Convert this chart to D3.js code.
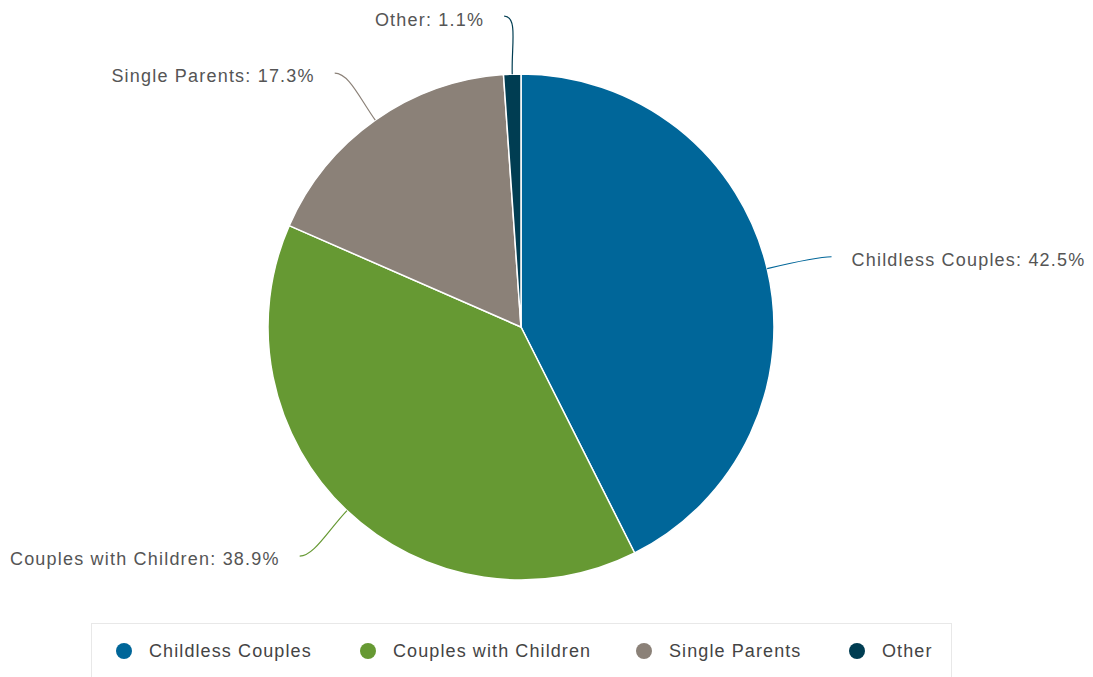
<!DOCTYPE html>
<meta charset="utf-8">
<style>
html, body {
  margin: 0;
  padding: 0;
  background: #fff;
}
svg {
  display: block;
  font-family: "Liberation Sans", Arial, sans-serif;
}
.label {
  font-size: 18px;
  fill: #555;
  letter-spacing: 1.2px;
}
.legend text {
  font-size: 18px;
  fill: #444;
  letter-spacing: 1.1px;
}
</style>
<svg width="1093" height="677"></svg>
<script src="https://cdn.jsdelivr.net/npm/d3@7"></script>
<script>
const categories = ['Childless Couples', 'Couples with Children', 'Single Parents', 'Other'];
const shares = [42.5, 38.9, 17.3, 1.1];
const colors = ['#006699', '#669933', '#8b8178', '#003d52'];

const svg = d3.select('svg'),
  width = +svg.attr('width'),
  height = +svg.attr('height');

const cx = 521, cy = 327, radius = 253;

const data = categories.map((c, i) => ({ name: c, value: shares[i], color: colors[i] }));

const pie = d3.pie()
  .sort(null)
  .value(d => d.value);

const arc = d3.arc()
  .innerRadius(0)
  .outerRadius(radius);

const arcs = pie(data);

const g = svg.append('g')
  .attr('transform', `translate(${cx},${cy})`);

g.selectAll('path.slice')
  .data(arcs)
  .enter()
  .append('path')
  .attr('class', 'slice')
  .attr('fill', d => d.data.color)
  .attr('stroke', '#fff')
  .attr('stroke-width', 1.5)
  .attr('stroke-linejoin', 'round')
  .attr('d', arc);

// connectors + labels
const polar = (a, r) => [r * Math.sin(a), -r * Math.cos(a)];

arcs.forEach(d => {
  const a = (d.startAngle + d.endAngle) / 2;
  const side = Math.sin(a) >= 0 ? 1 : -1;
  const p0 = polar(a, radius);
  const p1 = polar(a, radius + 28);
  const end = polar(a, radius + 60);
  end[0] += side * 6;
  end[1] += 2;
  const c2 = [end[0] - side * 14, end[1]];

  g.append('path')
    .attr('fill', 'none')
    .attr('stroke', d.data.color)
    .attr('stroke-width', 1.2)
    .attr('d', `M${p0[0]},${p0[1]} C${p1[0]},${p1[1]} ${c2[0]},${c2[1]} ${end[0]},${end[1]}`);

  g.append('text')
    .attr('class', 'label')
    .attr('x', end[0] + side * 20)
    .attr('y', end[1] + 3)
    .attr('dy', '0.35em')
    .attr('text-anchor', side > 0 ? 'start' : 'end')
    .text(`${d.data.name}: ${d.data.value}%`);
});

// legend
const legend = svg.append('g').attr('class', 'legend');

legend.append('rect')
  .attr('x', 91.5)
  .attr('y', 623.5)
  .attr('width', 860)
  .attr('height', 80)
  .attr('fill', '#fff')
  .attr('stroke', '#e8e8e8');

const legendX = [124, 368, 644, 857];

const item = legend.selectAll('g.item')
  .data(data)
  .enter()
  .append('g')
  .attr('class', 'item')
  .attr('transform', (d, i) => `translate(${legendX[i]},651)`);

item.append('circle')
  .attr('r', 8)
  .attr('fill', d => d.color);

item.append('text')
  .attr('x', 25)
  .attr('dy', '0.35em')
  .text(d => d.name);
</script>
